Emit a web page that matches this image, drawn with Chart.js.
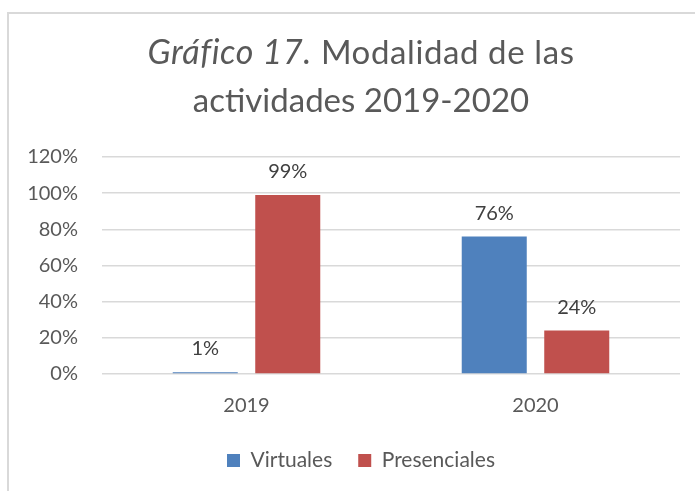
<!DOCTYPE html>
<html>
<head>
<meta charset="utf-8">
<script src="https://cdn.jsdelivr.net/npm/chart.js@4/dist/chart.umd.min.js"></script>
<style>
  body { margin: 0; overflow: hidden; background: #fff; width: 695px; height: 491px; }
  .frame { position: absolute; left: 7px; top: 12px; width: 800px; height: 600px; border: 2px solid #d9d9d9; }
  .wrap { position: absolute; left: 0; top: 0; width: 696px; height: 491px; }
  .title { position: absolute; left: 0; top: 27px; width: 722px; text-align: center;
           font-family: Lato, sans-serif; font-size: 33px; line-height: 48px; color: #595959; }
  .title .l1 { letter-spacing: 0.6px; }
  .title i { font-size: 34px; }
</style>
</head>
<body>
<div class="frame"></div>
<div class="wrap"><canvas id="chart"></canvas></div>
<div class="title"><span class="l1"><i>Gráfico 17.</i> Modalidad de las</span><br>actividades 2019-2020</div>
<script>
// chart data
const years = ['2019', '2020'];
const virtuales = [0.01, 0.76];
const presenciales = [0.99, 0.24];
const yTickLabels = ['0%', '20%', '40%', '60%', '80%', '100%', '120%'];

const textColor = '#595959';

// labels above each bar
const barLabels = {
    id: 'barLabels',
    afterDatasetsDraw(chart) {
        const ctx = chart.ctx;
        ctx.save();
        ctx.font = '20px Lato';
        ctx.fillStyle = '#404040';
        ctx.textAlign = 'center';
        ctx.textBaseline = 'alphabetic';
        chart.data.datasets.forEach((ds, i) => {
            chart.getDatasetMeta(i).data.forEach((bar, j) => {
                ctx.fillText(Math.round(ds.data[j] * 100) + '%', bar.x, bar.y - 17);
            });
        });
        ctx.restore();
    }
};

// legend is centred on the frame, not on the canvas
const legendShift = {
    id: 'legendShift',
    afterLayout(chart) {
        chart.legend.left += 13;
        chart.legend.right += 13;
    }
};

const chartElement = document.getElementById('chart');

new Chart(chartElement, {
    type: 'bar',
    data: {
        labels: years,
        datasets: [{
            label: 'Virtuales',
            data: virtuales,
            backgroundColor: '#4f81bd'
        }, {
            label: 'Presenciales',
            data: presenciales,
            backgroundColor: '#c0504d'
        }]
    },
    options: {
        responsive: true,
        maintainAspectRatio: false,
        animation: false,
        categoryPercentage: 0.571,
        barPercentage: 0.788,
        layout: {
            padding: { left: 16, right: 16, top: 157, bottom: 10 }
        },
        plugins: {
            legend: {
                position: 'bottom',
                labels: {
                    boxWidth: 13,
                    boxHeight: 13,
                    padding: 26,
                    color: textColor,
                    font: { family: 'Lato', size: 21 }
                }
            },
            tooltip: { enabled: false }
        },
        scales: {
            x: {
                grid: { display: false },
                border: { display: false },
                ticks: {
                    color: textColor,
                    padding: 12,
                    font: { family: 'Lato', size: 20 }
                },
                afterFit: (scale) => { scale.height = 50; }
            },
            y: {
                min: 0,
                max: 1.2,
                grid: { color: '#d9d9d9', lineWidth: 1.5, drawTicks: false },
                border: { display: false },
                ticks: {
                    stepSize: 0.2,
                    padding: 24,
                    color: textColor,
                    font: { family: 'Lato', size: 20 },
                    callback: (value, index) => yTickLabels[index]
                },
                afterFit: (scale) => { scale.width = 86; }
            }
        }
    },
    plugins: [barLabels, legendShift]
});
</script>
</body>
</html>
